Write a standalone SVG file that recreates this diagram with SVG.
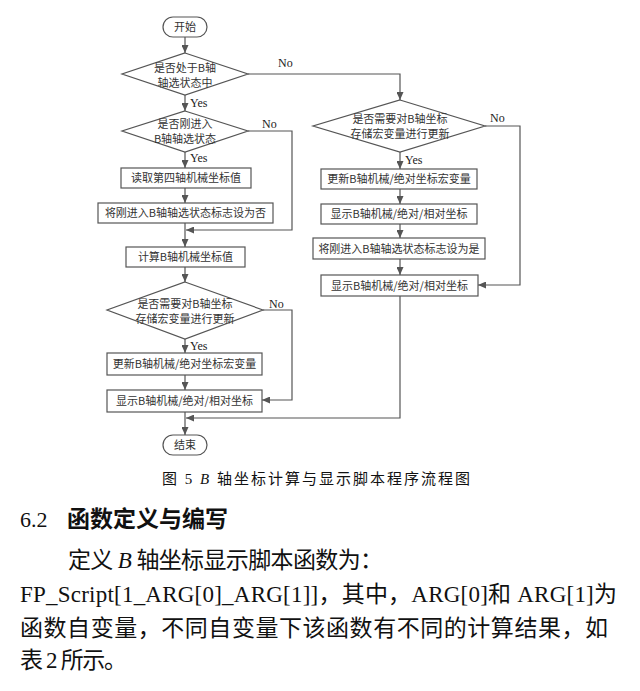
<svg xmlns="http://www.w3.org/2000/svg" width="640" height="691" viewBox="0 0 640 691">
<style>
.shape{fill:#fff;stroke:#555;stroke-width:1.2}
.ln{fill:none;stroke:#555;stroke-width:1.2}
.t{font-family:"Noto Sans CJK SC","Liberation Sans",sans-serif;font-size:11px;fill:#333;text-anchor:middle}
.lb{font-family:"Liberation Serif",serif;font-size:12px;fill:#222}
.body{font-family:"Liberation Serif","Noto Sans CJK SC",serif;fill:#111}
</style>
<defs>
<marker id="ah" markerUnits="userSpaceOnUse" markerWidth="8" markerHeight="7" refX="8" refY="3.5" orient="auto">
<path d="M0,0 L8,3.5 L0,7 z" fill="#555"/>
</marker>
</defs>
<g id="connectors">
<line class="ln" x1="185" y1="37" x2="185" y2="53" marker-end="url(#ah)"/>
<polyline class="ln" points="248,74 400,74 400,100" marker-end="url(#ah)"/>
<line class="ln" x1="185" y1="95" x2="185" y2="111" marker-end="url(#ah)"/>
<polyline class="ln" points="248,131 292,131 292,230 186,230" marker-end="url(#ah)"/>
<line class="ln" x1="185" y1="152" x2="185" y2="168" marker-end="url(#ah)"/>
<line class="ln" x1="185" y1="188" x2="185" y2="203" marker-end="url(#ah)"/>
<line class="ln" x1="185" y1="223" x2="185" y2="247" marker-end="url(#ah)"/>
<line class="ln" x1="185" y1="267" x2="185" y2="282" marker-end="url(#ah)"/>
<polyline class="ln" points="263,310 292,310 292,400 262,400" marker-end="url(#ah)"/>
<line class="ln" x1="185" y1="339" x2="185" y2="353" marker-end="url(#ah)"/>
<line class="ln" x1="185" y1="375" x2="185" y2="390" marker-end="url(#ah)"/>
<line class="ln" x1="185" y1="412" x2="185" y2="435" marker-end="url(#ah)"/>
<polyline class="ln" points="400,296 400,418 186,418" marker-end="url(#ah)"/>
<line class="ln" x1="400" y1="152" x2="400" y2="169" marker-end="url(#ah)"/>
<polyline class="ln" points="485,126 520,126 520,285 478,285" marker-end="url(#ah)"/>
<line class="ln" x1="400" y1="189" x2="400" y2="204" marker-end="url(#ah)"/>
<line class="ln" x1="400" y1="224" x2="400" y2="238" marker-end="url(#ah)"/>
<line class="ln" x1="400" y1="259" x2="400" y2="275" marker-end="url(#ah)"/>
<text class="lb" x="278" y="67">No</text>
<text class="lb" x="190" y="107">Yes</text>
<text class="lb" x="262" y="128">No</text>
<text class="lb" x="190" y="162">Yes</text>
<text class="lb" x="269" y="308">No</text>
<text class="lb" x="190" y="350">Yes</text>
<text class="lb" x="490" y="122">No</text>
<text class="lb" x="405" y="164">Yes</text>
</g>
<g id="start"><rect class="shape" x="163" y="17" width="44" height="20" rx="10"/><text class="t" x="185" y="31">开始</text></g>
<g id="d1"><polygon class="shape" points="185,53 248,74 185,95 122,74"/><text class="t" x="185" y="72">是否处于B轴</text><text class="t" x="185" y="87">轴选状态中</text></g>
<g id="d2"><polygon class="shape" points="185,111 248,131 185,152 122,131"/><text class="t" x="185" y="128">是否刚进入</text><text class="t" x="185" y="143">B轴轴选状态</text></g>
<g id="b1"><rect class="shape" x="121" y="168" width="130" height="20"/><text class="t" x="186" y="182">读取第四轴机械坐标值</text></g>
<g id="b2"><rect class="shape" x="98" y="203" width="175" height="20"/><text class="t" x="185.5" y="217">将刚进入B轴轴选状态标志设为否</text></g>
<g id="b3"><rect class="shape" x="126" y="247" width="119" height="20"/><text class="t" x="185.5" y="261">计算B轴机械坐标值</text></g>
<g id="d3"><polygon class="shape" points="185,282 263,310 185,339 107,310"/><text class="t" x="185" y="308">是否需要对B轴坐标</text><text class="t" x="185" y="323">存储宏变量进行更新</text></g>
<g id="b4"><rect class="shape" x="107" y="353" width="155" height="22"/><text class="t" x="184.5" y="368">更新B轴机械/绝对坐标宏变量</text></g>
<g id="b5"><rect class="shape" x="107" y="390" width="155" height="22"/><text class="t" x="184.5" y="405">显示B轴机械/绝对/相对坐标</text></g>
<g id="end"><rect class="shape" x="163" y="435" width="44" height="20" rx="10"/><text class="t" x="185" y="449">结束</text></g>
<g id="r1"><polygon class="shape" points="400,100 485,126 400,152 313,126"/><text class="t" x="400" y="123">是否需要对B轴坐标</text><text class="t" x="400" y="138">存储宏变量进行更新</text></g>
<g id="rb1"><rect class="shape" x="321" y="169" width="156" height="20"/><text class="t" x="399" y="183">更新B轴机械/绝对坐标宏变量</text></g>
<g id="rb2"><rect class="shape" x="321" y="204" width="156" height="20"/><text class="t" x="399" y="218">显示B轴机械/绝对/相对坐标</text></g>
<g id="rb3"><rect class="shape" x="313" y="238" width="172" height="21"/><text class="t" x="399" y="253">将刚进入B轴轴选状态标志设为是</text></g>
<g id="rb4"><rect class="shape" x="321" y="275" width="157" height="21"/><text class="t" x="399.5" y="290">显示B轴机械/绝对/相对坐标</text></g>
<g id="text">
<text class="body" x="162" y="484" font-size="15" textLength="308" lengthAdjust="spacing">图 5 <tspan font-style="italic">B</tspan> 轴坐标计算与显示脚本程序流程图</text>
<text class="body" x="20" y="527" font-size="22">6.2</text>
<text class="body" x="67" y="527" font-size="23" font-weight="bold" textLength="161" lengthAdjust="spacing">函数定义与编写</text>
<text class="body" x="68" y="568" font-size="23" textLength="315" lengthAdjust="spacing">定义 <tspan font-style="italic">B</tspan> 轴坐标显示脚本函数为：</text>
<text class="body" x="20" y="602" font-size="23" textLength="597" lengthAdjust="spacing">FP_Script[1_ARG[0]_ARG[1]]，其中，ARG[0]和 ARG[1]为</text>
<text class="body" x="20" y="636" font-size="23" textLength="588" lengthAdjust="spacing">函数自变量，不同自变量下该函数有不同的计算结果，如</text>
<text class="body" x="20" y="668" font-size="23" textLength="107" lengthAdjust="spacing">表 2 所示。</text>
</g>
</svg>
